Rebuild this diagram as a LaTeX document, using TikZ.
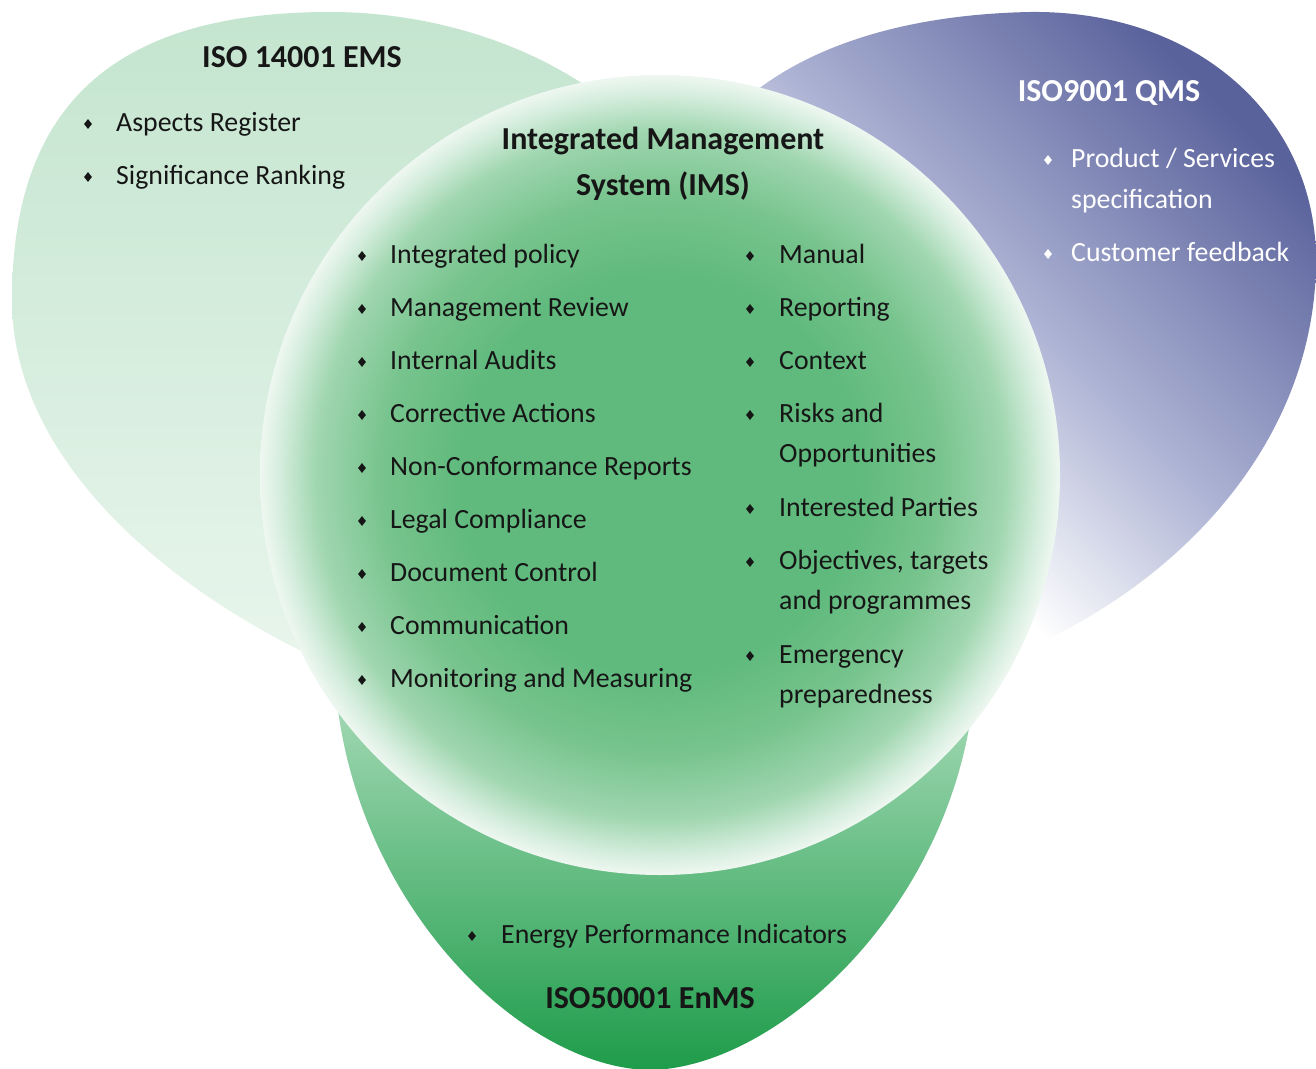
\documentclass[tikz,border=0pt]{standalone}
\usepackage{fontspec}
\setmainfont{Carlito}
\usepackage{xcolor}
\usepackage{tikz}
\usetikzlibrary{shapes.geometric, positioning}

\definecolor{inkblack}{RGB}{22,22,22}
\definecolor{emsTop}{RGB}{196,229,207}
\definecolor{emsBot}{RGB}{232,245,236}
\definecolor{qmsMid}{RGB}{172,178,211}
\definecolor{qmsDark}{RGB}{90,98,156}
\definecolor{enmsTop}{RGB}{170,220,186}
\definecolor{enmsBot}{RGB}{30,156,74}
\definecolor{imsA}{RGB}{96,186,125}
\definecolor{imsB}{RGB}{120,196,142}
\definecolor{imsC}{RGB}{160,214,176}
\definecolor{imsD}{RGB}{212,237,220}
\definecolor{imsE}{RGB}{238,247,241}

\pgfdeclareradialshading{imsglow}{\pgfpoint{0bp}{0bp}}{color(0bp)=(imsA); color(12.5bp)=(imsA); color(17.5bp)=(imsB); color(21.5bp)=(imsC); color(23.75bp)=(imsD); color(25bp)=(imsE); color(50bp)=(imsE)}
\pgfdeclareverticalshading{qmsfade}{100bp}{color(0bp)=(white); color(35bp)=(white); color(52.5bp)=(qmsMid); color(75bp)=(qmsDark); color(100bp)=(qmsDark)}

\begin{document}
\begin{tikzpicture}%
	[x=1pt, y=-1pt,
	item/.style={anchor=base west, inner sep=0pt, text=inkblack, font=\fontsize{27.8}{33}\selectfont},
	head/.style={anchor=base, inner sep=0pt, text=inkblack, font=\bfseries\fontsize{32}{38}\selectfont},
	bul/.style={diamond, fill=inkblack, inner sep=0pt, minimum width=8pt, minimum height=10pt},
	nextline/.style={anchor=base west}]
%
%% Page
%%
\fill[white] (0,0) rectangle (1316,1068);
\useasboundingbox (0,0) rectangle (1316,1068);
%%
%%
%% The three outer lobes
%%
\shade[top color=emsTop, bottom color=emsBot] (640,130) .. controls (560,50) and (440,12) .. (330,12) .. controls (120,12) and (12,100) .. (12,300) .. controls (12,450) and (150,580) .. (320,660) -- cycle;
\shade[shading=qmsfade, shading angle=-45] (700,150) .. controls (760,60) and (880,15) .. (1030,12) .. controls (1200,10) and (1316,120) .. (1316,260) .. controls (1316,440) and (1180,590) .. (1000,660) -- cycle;
\shade[top color=enmsTop, bottom color=enmsBot] (335,680) .. controls (350,900) and (520,1068) .. (650,1070) .. controls (780,1068) and (960,900) .. (975,680) -- cycle;
%%
%%
%% The central circle
%%
\shade[shading=imsglow] (660,475) circle[radius=400pt];
%%
%%
%% ISO 14001 EMS
%%
\node[head] (ems) at (302,67) {ISO 14001 EMS};
\node[bul] (ems-b1) at (88,124) {};
\node[item] (ems-1) at (116,131) {Aspects Register};
\node[bul] (ems-b2) at (88,177) {};
\node[item] (ems-2) at (116,184) {Significance Ranking};
%%
%%
%% ISO9001 QMS
%%
\node[head, text=white] (qms) at (1109,101) {ISO9001 QMS};
\node[bul, fill=white] (qms-b1) at (1048,160) {};
\node[item, text=white] (qms-1) at (1071,167) {Product / Services};
\node[item, text=white, nextline] (qms-1b) at ([yshift=-41pt]qms-1.base west) {specification};
\node[bul, fill=white] (qms-b2) at (1048,254) {};
\node[item, text=white] (qms-2) at (1071,261) {Customer feedback};
%%
%%
%% Integrated Management System
%%
\node[head] (ims-h1) at (663,149) {Integrated Management};
\node[head] (ims-h2) at (663,195) {System (IMS)};
%%
%% left column
\node[bul] (ims-lb1) at (362,256) {};
\node[item] (ims-l1) at (390,263) {Integrated policy};
\node[bul] (ims-lb2) at (362,309) {};
\node[item] (ims-l2) at (390,316) {Management Review};
\node[bul] (ims-lb3) at (362,362) {};
\node[item] (ims-l3) at (390,369) {Internal Audits};
\node[bul] (ims-lb4) at (362,415) {};
\node[item] (ims-l4) at (390,422) {Corrective Actions};
\node[bul] (ims-lb5) at (362,468) {};
\node[item] (ims-l5) at (390,475) {Non-Conformance Reports};
\node[bul] (ims-lb6) at (362,521) {};
\node[item] (ims-l6) at (390,528) {Legal Compliance};
\node[bul] (ims-lb7) at (362,574) {};
\node[item] (ims-l7) at (390,581) {Document Control};
\node[bul] (ims-lb8) at (362,627) {};
\node[item] (ims-l8) at (390,634) {Communication};
\node[bul] (ims-lb9) at (362,680) {};
\node[item] (ims-l9) at (390,687) {Monitoring and Measuring};
%%
%% right column
\node[bul] (ims-rb1) at (750,256) {};
\node[item] (ims-r1) at (779,263) {Manual};
\node[bul] (ims-rb2) at (750,309) {};
\node[item] (ims-r2) at (779,316) {Reporting};
\node[bul] (ims-rb3) at (750,362) {};
\node[item] (ims-r3) at (779,369) {Context};
\node[bul] (ims-rb4) at (750,415) {};
\node[item] (ims-r4) at (779,422) {Risks and};
\node[item, nextline] (ims-r4b) at ([yshift=-40pt]ims-r4.base west) {Opportunities};
\node[bul] (ims-rb5) at (750,509) {};
\node[item] (ims-r5) at (779,516) {Interested Parties};
\node[bul] (ims-rb6) at (750,562) {};
\node[item] (ims-r6) at (779,569) {Objectives, targets};
\node[item, nextline] (ims-r6b) at ([yshift=-40pt]ims-r6.base west) {and programmes};
\node[bul] (ims-rb7) at (750,656) {};
\node[item] (ims-r7) at (779,663) {Emergency};
\node[item, nextline] (ims-r7b) at ([yshift=-40pt]ims-r7.base west) {preparedness};
%%
%%
%% ISO50001 EnMS
%%
\node[bul] (enms-b1) at (472,936) {};
\node[item] (enms-1) at (501,943) {Energy Performance Indicators};
\node[head] (enms) at (650,1008) {ISO50001 EnMS};
%%
%%
\end{tikzpicture}
\end{document}
